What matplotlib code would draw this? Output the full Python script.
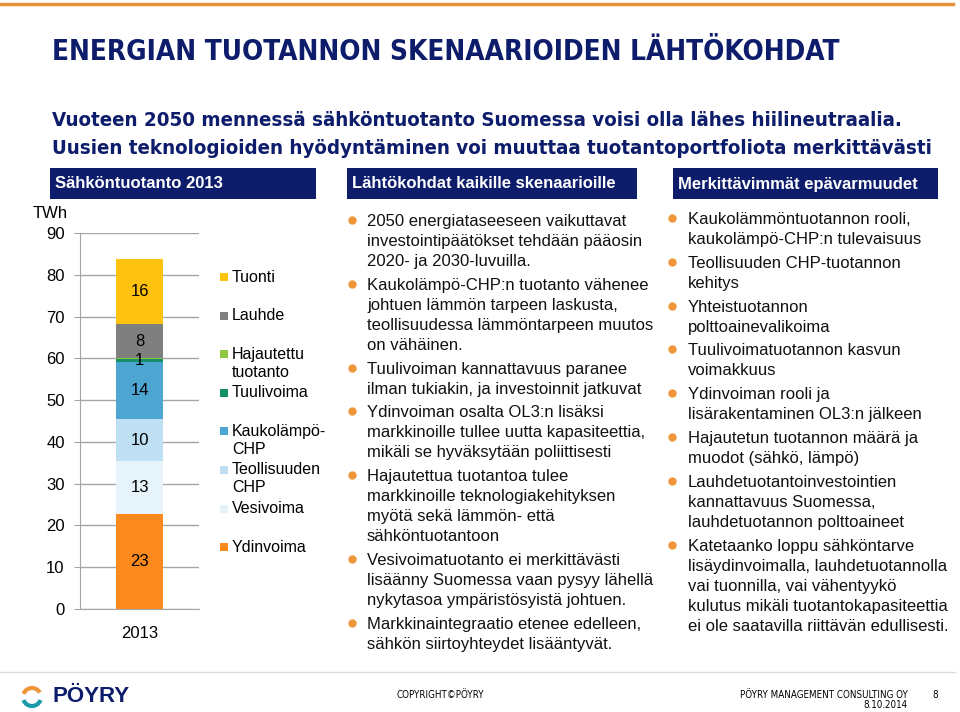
import matplotlib.pyplot as plt
import matplotlib.transforms as mtransforms
from matplotlib.patches import Rectangle, Arc
from matplotlib.lines import Line2D

plt.rcParams['font.family'] = ['Liberation Sans', 'DejaVu Sans']
# narrow face for the slide title and footer
NARROW = dict(family='DejaVu Sans', stretch='condensed')

###############################################################################
# Data

series = ['Ydinvoima', 'Vesivoima', 'Teollisuuden\nCHP', 'Kaukolämpö-\nCHP',
          'Tuulivoima', 'Hajautettu\ntuotanto', 'Lauhde', 'Tuonti']
values_2013 = [22.7, 12.7, 10.1, 13.6, 0.8, 0.1, 8.1, 15.6]
colors = ['#FB8A1E', '#E6F3FB', '#BEE0F2', '#4DA5D2',
          '#168F68', '#8DC63F', '#7F7F7F', '#FFC20E']
year = ['2013']

middle_bullets = [
    ['2050 energiataseeseen vaikuttavat',
     'investointipäätökset tehdään pääosin',
     '2020- ja 2030-luvuilla.'],
    ['Kaukolämpö-CHP:n tuotanto vähenee',
     'johtuen lämmön tarpeen laskusta,',
     'teollisuudessa lämmöntarpeen muutos',
     'on vähäinen.'],
    ['Tuulivoiman kannattavuus paranee',
     'ilman tukiakin, ja investoinnit jatkuvat'],
    ['Ydinvoiman osalta OL3:n lisäksi',
     'markkinoille tullee uutta kapasiteettia,',
     'mikäli se hyväksytään poliittisesti'],
    ['Hajautettua tuotantoa tulee',
     'markkinoille teknologiakehityksen',
     'myötä sekä lämmön- että',
     'sähköntuotantoon'],
    ['Vesivoimatuotanto ei merkittävästi',
     'lisäänny Suomessa vaan pysyy lähellä',
     'nykytasoa ympäristösyistä johtuen.'],
    ['Markkinaintegraatio etenee edelleen,',
     'sähkön siirtoyhteydet lisääntyvät.'],
]

right_bullets = [
    ['Kaukolämmöntuotannon rooli,',
     'kaukolämpö-CHP:n tulevaisuus'],
    ['Teollisuuden CHP-tuotannon',
     'kehitys'],
    ['Yhteistuotannon',
     'polttoainevalikoima'],
    ['Tuulivoimatuotannon kasvun',
     'voimakkuus'],
    ['Ydinvoiman rooli ja',
     'lisärakentaminen OL3:n jälkeen'],
    ['Hajautetun tuotannon määrä ja',
     'muodot (sähkö, lämpö)'],
    ['Lauhdetuotantoinvestointien',
     'kannattavuus Suomessa,',
     'lauhdetuotannon polttoaineet'],
    ['Katetaanko loppu sähköntarve',
     'lisäydinvoimalla, lauhdetuotannolla',
     'vai tuonnilla, vai vähentyykö',
     'kulutus mikäli tuotantokapasiteettia',
     'ei ole saatavilla riittävän edullisesti.'],
]

NAVY = '#0E1D6B'
ORANGE = '#F0953A'

W, H = 960, 712
fig = plt.figure(figsize=(W / 100, H / 100), dpi=100)
# pixel coordinates, origin top-left
px = mtransforms.Affine2D().scale(1 / W, -1 / H).translate(0, 1) + fig.transFigure


def fit(t, width):
    """Scale a text's font size so that it spans `width` pixels."""
    w = t.get_window_extent(fig.canvas.get_renderer()).width
    t.set_fontsize(t.get_fontsize() * width / w)


###############################################################################
# Slide frame: top rule, titles, header boxes

fig.add_artist(Line2D([0, 953], [4, 4], transform=px, color='#E8913A', lw=2.5))
title = fig.text(52, 52, 'ENERGIAN TUOTANNON SKENAARIOIDEN LÄHTÖKOHDAT',
                 transform=px, weight='bold', fontsize=20, color=NAVY,
                 va='center', **NARROW)
sub1 = fig.text(52, 120, 'Vuoteen 2050 mennessä sähköntuotanto Suomessa voisi olla lähes hiilineutraalia.',
                transform=px, weight='bold', fontsize=15, color=NAVY,
                va='center', **NARROW)
sub2 = fig.text(52, 148, 'Uusien teknologioiden hyödyntäminen voi muuttaa tuotantoportfoliota merkittävästi',
                transform=px, weight='bold', fontsize=15, color=NAVY,
                va='center', **NARROW)
fit(title, 787)
fit(sub2, 881)
sub1.set_fontsize(sub2.get_fontsize())

headers = [(50, 316, 'Sähköntuotanto 2013'),
           (347, 637, 'Lähtökohdat kaikille skenaarioille'),
           (673, 938, 'Merkittävimmät epävarmuudet')]
for x0, x1, label in headers:
    fig.add_artist(Rectangle((x0, 168), x1 - x0, 31, transform=px,
                             facecolor=NAVY, edgecolor='none'))
    fig.text(x0 + 5, 184, label, transform=px, color='white',
             weight='bold', fontsize=12, va='center')

###############################################################################
# Stacked bar

ax = fig.add_axes([80 / W, 1 - 609 / H, 119 / W, (609 - 233) / H])
bottom = 0
for name, v, c in zip(series, values_2013, colors):
    bars = ax.bar(year, [v], 0.4, bottom=bottom, color=c, label=name, zorder=2)
    ax.bar_label(bars, labels=['%.0f' % v if v >= 0.5 else ''],
                 label_type='center', fontsize=12)
    bottom += v

ax.set_xlim(-0.5, 0.5)
ax.set_ylim(0, 90)
ax.set_yticks(range(0, 91, 10))
ax.grid(axis='y', color='#A6A6A6', lw=1, zorder=0)
for side in ('top', 'right'):
    ax.spines[side].set_visible(False)
for side in ('left', 'bottom'):
    ax.spines[side].set_color('#A6A6A6')
ax.tick_params(axis='y', length=4, color='#A6A6A6', labelsize=12, pad=7)
ax.tick_params(axis='x', length=0, labelsize=12, pad=12)
fig.text(50, 213, 'TWh', transform=px, fontsize=12, ha='center', va='center')

# Legend, drawn by hand to keep the slide's uneven spacing
for i, (name, c) in enumerate(zip(series[::-1], colors[::-1])):
    y = 277 + i * 38.6
    fig.add_artist(Rectangle((220, y - 4), 8, 8, transform=px,
                             facecolor=c, edgecolor='none'))
    for j, line in enumerate(name.split('\n')):
        fig.text(232, y + j * 18, line, transform=px, fontsize=11.5, va='center')

###############################################################################
# Bullet columns

def bullets(paragraphs, x_dot, x_text, y0, step=20, gap=3.8):
    y = y0
    for para in paragraphs:
        fig.add_artist(Line2D([x_dot], [y], transform=px, marker='o', ms=5,
                              color=ORANGE, lw=0))
        for line in para:
            fig.text(x_text, y + 6, line, transform=px, fontsize=12,
                     va='baseline', color='#111111')
            y += step
        y += gap


bullets(middle_bullets, 352, 367, 220)
bullets(right_bullets, 672, 688, 218)

###############################################################################
# Footer

fig.add_artist(Line2D([0, 955], [672, 672], transform=px, color='#DDDDDD', lw=1))
fig.add_artist(Arc((32, 697), 18, 18, theta1=200, theta2=330, transform=px,
                   color='#F0953A', lw=3))
fig.add_artist(Arc((32, 697), 18, 18, theta1=20, theta2=160, transform=px,
                   color='#1B9AAA', lw=3))
fig.text(52, 697, 'PÖYRY', transform=px, weight='bold', fontsize=16,
         color=NAVY, va='center')
fig.text(440, 695, 'COPYRIGHT©PÖYRY', transform=px, fontsize=7,
         ha='center', va='center', **NARROW)
fig.text(908, 695, 'PÖYRY MANAGEMENT CONSULTING OY', transform=px, fontsize=7,
         ha='right', va='center', **NARROW)
fig.text(908, 705, '8.10.2014', transform=px, fontsize=7,
         ha='right', va='center', **NARROW)
fig.text(932, 695, '8', transform=px, fontsize=7, va='center', **NARROW)

fig.savefig('out.png', dpi=100)
